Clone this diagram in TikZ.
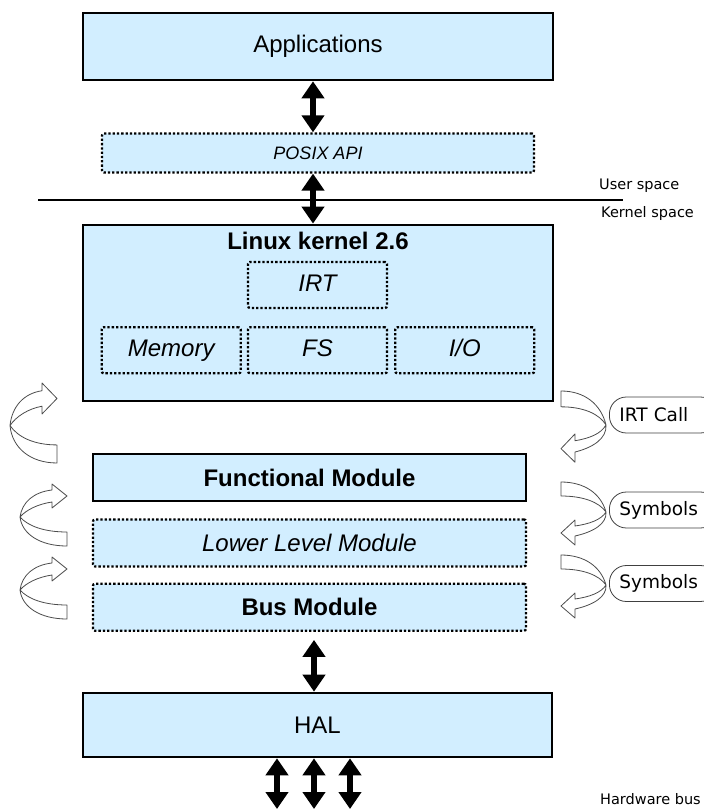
\documentclass[tikz,border=0pt]{standalone}
\usepackage{fontspec}
\setmainfont{Liberation Sans}
\newfontfamily\verdana{DejaVu Sans}
\usetikzlibrary{positioning, arrows.meta}
\definecolor{boxblue}{RGB}{210,238,255}
\tikzset{
  box/.style={draw, line width=2.6pt, fill=boxblue, inner sep=0pt,
    font=\fontsize{24}{28}\selectfont},
  dotbox/.style={draw, line width=2.3pt, dash pattern=on 2.3pt off 2pt,
    rounded corners=2pt, fill=boxblue, inner sep=0pt,
    minimum width=433pt, minimum height=47pt},
  inbox/.style={dotbox, minimum width=139pt, minimum height=46pt,
    text height=17pt, text depth=5pt,
    font=\itshape\fontsize{24}{28}\selectfont},
  bigarrow/.style={line width=5.5pt,
    arrows={Triangle[width=22pt,length=17pt]-Triangle[width=22pt,length=17pt]}},
  sepline/.style={line width=2.6pt},
  spacetext/.style={anchor=west, inner sep=0pt,
    font=\verdana\fontsize{14.5}{17}\selectfont},
  sidelabel/.style={draw=black!75, line width=0.8pt, fill=white,
    rounded corners=17pt, minimum height=36pt, text width=88pt,
    align=left, inner xsep=10pt, inner ysep=0pt, anchor=west,
    font=\verdana\fontsize{18.5}{22}\selectfont},
  ribbon/.style={draw=black!70, fill=white, line width=0.8pt, line join=round},
  % u-turn band arrows, drawn in image units (y grows downwards)
  uturn right/.pic={
    \draw[ribbon] (0,0) .. controls (24,0) and (40,12) .. (45,30)
      .. controls (46,42) and (32,50) .. (14,54)
      -- (14,63) -- (0,51) -- (14,38) -- (14,44)
      .. controls (28,42) and (40,38) .. (45,30)
      .. controls (38,20) and (22,14) .. (0,14) -- cycle;
  },
  uturn left/.pic={
    \draw[ribbon] (47,62) .. controls (20,62) and (2,50) .. (0,33)
      .. controls (2,18) and (14,8) .. (32,6)
      -- (32,0) -- (47,12) -- (32,24) -- (32,18)
      .. controls (18,20) and (6,26) .. (0,33)
      .. controls (8,42) and (24,48) .. (47,48) -- cycle;
  }
}
\begin{document}
\begin{tikzpicture}[x=1pt, y=-1pt]
  \useasboundingbox (0,0) rectangle (704,809);
  \node[box, minimum width=470pt, minimum height=67pt] (apps) at (318,46.5) {Applications};
  \node[dotbox, minimum width=432pt, minimum height=39pt,
    font=\itshape\fontsize{18}{22}\selectfont, below=51pt of apps] (posix) {POSIX API};
  \node[box, minimum width=470pt, minimum height=176pt, below=50pt of posix] (kernel) {};
  \node[inner sep=0pt, font=\bfseries\fontsize{24}{28}\selectfont,
    below=8pt of kernel.north] (ktitle) {Linux kernel 2.6};
  \node[inbox] (irt) at (317.5,285) {IRT};
  \node[inbox, below=17pt of irt] (fs) {FS};
  \node[inbox, left=5pt of fs] (memory) {Memory};
  \node[inbox, right=6pt of fs] (io) {I/O};
%
  \node[box, minimum width=433pt, minimum height=47pt,
    font=\bfseries\fontsize{24}{28}\selectfont] (func) at (309.5,477.5) {Functional Module};
  \node[dotbox, font=\itshape\fontsize{24}{28}\selectfont, below=16pt of func] (lower) {Lower Level Module};
  \node[dotbox, font=\bfseries\fontsize{24}{28}\selectfont, below=15pt of lower] (bus) {Bus Module};
  \node[box, minimum width=469pt, minimum height=64pt] (hal) at (317.5,725) {HAL};
%
  \coordinate (spine) at (313,0);
  \coordinate (spine2) at (314,0);
  \coordinate (busout) at ([yshift=-8pt]bus.south);
  \draw[bigarrow] (apps.south -| spine) -- (posix.north -| spine);
  \draw[bigarrow] (posix.south -| spine) -- (kernel.north -| spine);
  \draw[bigarrow] (busout -| spine2) -- (hal.north -| spine2);
  \foreach \i/\x in {1/277, 2/314, 3/350} {
    \coordinate (hw\i) at (\x,809);
    \draw[bigarrow] (hal.south -| hw\i) -- (hw\i);
  }
%
  \draw[sepline] (38,200) -- (623,200);
  \node[spacetext] (user) at (599,186) {User space};
  \node[spacetext] (kspace) at (601,213) {Kernel space};
  \node[spacetext] (hwbus) at (600,799.5) {Hardware bus};
%
  \pic[yscale=1.29] at (10,383) {uturn left};
  \pic at (20,484) {uturn left};
  \pic at (20,557) {uturn left};
  \pic[yscale=1.13] at (561,391) {uturn right};
  \pic at (561,482) {uturn right};
  \pic at (561,555) {uturn right};
  \node[sidelabel] (irtcall) at (609,415) {IRT Call};
  \node[sidelabel] (sym1) at (609,510) {Symbols};
  \node[sidelabel] (sym2) at (609,583.5) {Symbols};
\end{tikzpicture}
\end{document}
